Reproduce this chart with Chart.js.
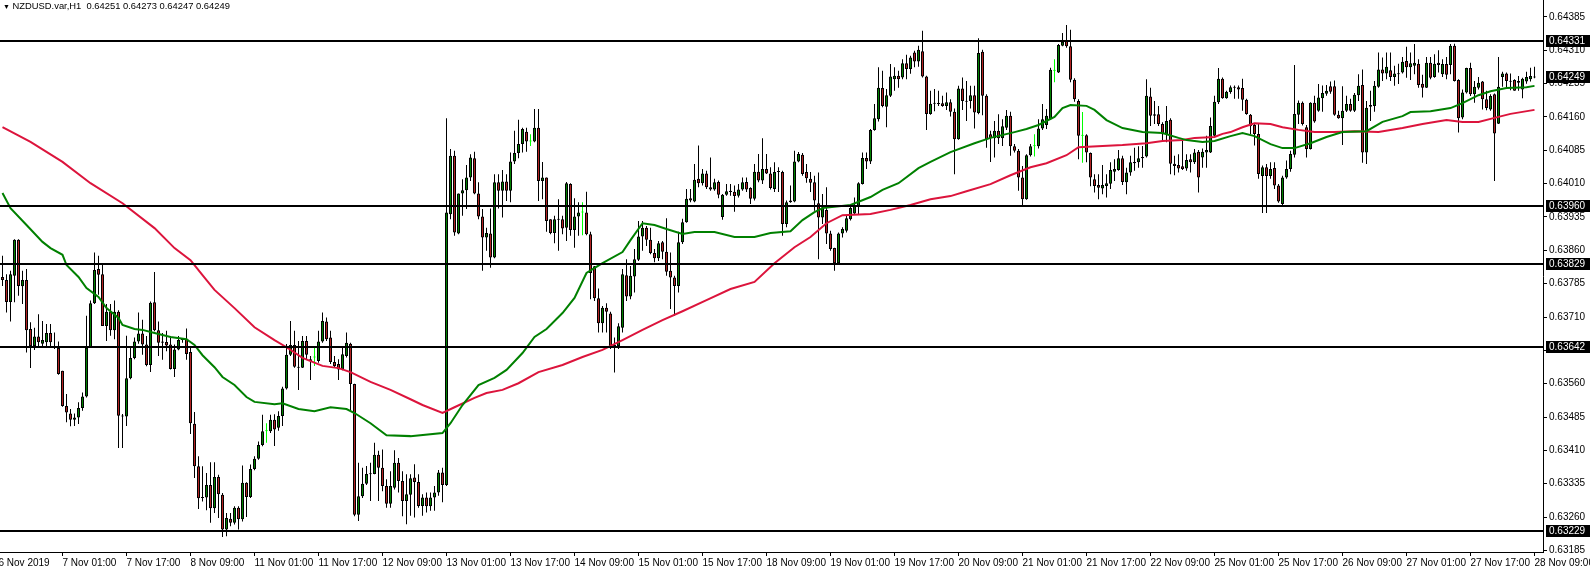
<!DOCTYPE html>
<html>
<head>
<meta charset="utf-8">
<title>NZDUSD.var H1</title>
<script src="https://cdn.jsdelivr.net/npm/chart.js@4"></script>
<style>
  body { margin: 0; background: #fff; }
  #wrap { position: relative; width: 1590px; height: 570px; }
  #hdr { position: absolute; left: 3px; top: 0; font: 9.4px "Liberation Sans", Arial, sans-serif; color: #000; white-space: pre; line-height: 11px; }
  #hdr span { font-size: 7px; }
</style>
</head>
<body>
<div id="wrap">
  <canvas id="chart" width="1590" height="570"></canvas>
  <div id="hdr"></div>
</div>
<script>
// H1 bars, 6 Nov 10:00 .. 28 Nov 09:00 (one value per bar)
const opens = [
0.63800,0.63793,0.63744,0.63803,0.63884,0.63779,0.63793,0.63683,0.63645,0.63666,0.63650,0.63653,0.63674,0.63640,0.63640,0.63589,
0.63510,0.63493,0.63479,0.63484,0.63505,0.63531,0.63641,0.63741,0.63818,0.63806,0.63690,0.63722,0.63680,0.63722,0.63488,0.63486,
0.63572,0.63618,0.63655,0.63673,0.63648,0.63602,0.63743,0.63680,0.63655,0.63654,0.63648,0.63593,0.63637,0.63658,0.63661,0.63631,
0.63470,0.63374,0.63304,0.63304,0.63332,0.63280,0.63350,0.63310,0.63232,0.63256,0.63247,0.63281,0.63255,0.63337,0.63305,0.63368,
0.63391,0.63422,0.63453,0.63453,0.63479,0.63461,0.63487,0.63549,0.63625,0.63647,0.63598,0.63596,0.63656,0.63615,0.63619,0.63611,
0.63655,0.63700,0.63664,0.63609,0.63604,0.63592,0.63622,0.63650,0.63559,0.63265,0.63307,0.63335,0.63357,0.63357,0.63400,0.63371,
0.63330,0.63290,0.63326,0.63382,0.63341,0.63296,0.63310,0.63349,0.63339,0.63285,0.63304,0.63284,0.63304,0.63315,0.63360,0.63332,
0.63941,0.64073,0.63898,0.63988,0.63995,0.64024,0.64067,0.63988,0.63936,0.63889,0.63898,0.63844,0.64013,0.63994,0.64015,0.63994,
0.64060,0.64079,0.64099,0.64127,0.64105,0.64105,0.64136,0.64016,0.64024,0.63930,0.63899,0.63930,0.63930,0.63911,0.64009,0.63906,
0.63936,0.63945,0.63945,0.63896,0.63824,0.63752,0.63696,0.63731,0.63718,0.63645,0.63645,0.63686,0.63804,0.63756,0.63801,0.63839,
0.63891,0.63911,0.63884,0.63854,0.63842,0.63878,0.63857,0.63814,0.63799,0.63780,0.63878,0.63923,0.63977,0.63970,0.64021,0.64011,
0.64033,0.64002,0.63997,0.64014,0.63935,0.63985,0.63994,0.63992,0.63983,0.63997,0.64014,0.64000,0.63976,0.64037,0.64017,0.64043,
0.64033,0.63998,0.64036,0.64036,0.63919,0.63968,0.63970,0.64060,0.64075,0.64036,0.64021,0.64013,0.63966,0.63934,0.63951,0.63898,
0.63865,0.63831,0.63898,0.63904,0.63930,0.63943,0.63960,0.64009,0.64068,0.64060,0.64131,0.64155,0.64225,0.64183,0.64208,0.64245,
0.64253,0.64249,0.64281,0.64268,0.64305,0.64285,0.64308,0.64251,0.64167,0.64190,0.64189,0.64191,0.64185,0.64193,0.64172,0.64110,
0.64224,0.64194,0.64196,0.64209,0.64169,0.64307,0.64208,0.64121,0.64112,0.64129,0.64112,0.64136,0.64163,0.64094,0.64084,0.64024,
0.63975,0.64074,0.64094,0.64094,0.64134,0.64142,0.64155,0.64264,0.64260,0.64320,0.64331,0.64319,0.64244,0.64196,0.64118,0.64119,
0.64079,0.64020,0.64007,0.63999,0.64005,0.64010,0.64037,0.64041,0.64067,0.64013,0.64035,0.64056,0.64058,0.64067,0.64071,0.64206,
0.64166,0.64166,0.64144,0.64121,0.64154,0.64055,0.64052,0.64049,0.64044,0.64065,0.64058,0.64082,0.64069,0.64080,0.64080,0.64118,
0.64193,0.64246,0.64202,0.64216,0.64227,0.64227,0.64225,0.64199,0.64165,0.64142,0.64122,0.64027,0.64047,0.64027,0.64045,0.64006,
0.63964,0.64024,0.64043,0.64075,0.64165,0.64192,0.64137,0.64088,0.64192,0.64174,0.64202,0.64212,0.64229,0.64229,0.64165,0.64157,
0.64174,0.64189,0.64174,0.64209,0.64232,0.64080,0.64183,0.64185,0.64228,0.64267,0.64258,0.64265,0.64250,0.64256,0.64260,0.64286,
0.64272,0.64275,0.64280,0.64235,0.64226,0.64282,0.64250,0.64282,0.64256,0.64279,0.64277,0.64320,0.64243,0.64159,0.64215,0.64270,
0.64211,0.64226,0.64240,0.64200,0.64177,0.64211,0.64145,0.64250,0.64258,0.64239,0.64243,0.64237,0.64222,0.64240,0.64245,0.64251
];
const highs = [
0.63848,0.63806,0.63814,0.63885,0.63885,0.63814,0.63818,0.63698,0.63686,0.63716,0.63701,0.63694,0.63694,0.63675,0.63655,0.63589,
0.63537,0.63503,0.63493,0.63518,0.63540,0.63713,0.63747,0.63855,0.63848,0.63829,0.63739,0.63739,0.63747,0.63725,0.63492,0.63668,
0.63640,0.63664,0.63720,0.63704,0.63667,0.63745,0.63811,0.63700,0.63674,0.63679,0.63667,0.63648,0.63667,0.63663,0.63684,0.63643,
0.63496,0.63397,0.63374,0.63359,0.63383,0.63383,0.63355,0.63314,0.63269,0.63269,0.63284,0.63284,0.63376,0.63338,0.63378,0.63397,
0.63430,0.63490,0.63471,0.63490,0.63491,0.63498,0.63553,0.63649,0.63701,0.63679,0.63656,0.63667,0.63667,0.63622,0.63641,0.63679,
0.63720,0.63709,0.63679,0.63622,0.63615,0.63645,0.63675,0.63652,0.63560,0.63382,0.63371,0.63375,0.63382,0.63427,0.63409,0.63412,
0.63345,0.63363,0.63410,0.63393,0.63363,0.63356,0.63356,0.63379,0.63356,0.63311,0.63315,0.63315,0.63330,0.63366,0.63371,0.64157,
0.64088,0.64084,0.63988,0.64020,0.64052,0.64076,0.64082,0.64013,0.63953,0.63911,0.63954,0.64031,0.64031,0.64041,0.64031,0.64080,
0.64129,0.64154,0.64136,0.64136,0.64121,0.64178,0.64178,0.64059,0.64024,0.63930,0.63938,0.63975,0.63938,0.64014,0.64011,0.63977,
0.63968,0.63968,0.63992,0.63902,0.63825,0.63774,0.63735,0.63741,0.63722,0.63664,0.63696,0.63818,0.63840,0.63825,0.63863,0.63926,
0.63926,0.63915,0.63911,0.63863,0.63881,0.63881,0.63932,0.63855,0.63803,0.63902,0.63931,0.63998,0.63998,0.64054,0.64096,0.64043,
0.64039,0.64069,0.64021,0.64017,0.63987,0.64009,0.64009,0.64006,0.64009,0.64024,0.64024,0.64002,0.64054,0.64077,0.64112,0.64077,
0.64047,0.64058,0.64047,0.64039,0.63972,0.64006,0.64084,0.64081,0.64079,0.64054,0.64036,0.64028,0.64035,0.63987,0.64002,0.63904,
0.63866,0.63900,0.63912,0.63938,0.63964,0.63979,0.64013,0.64080,0.64080,0.64133,0.64189,0.64272,0.64264,0.64223,0.64279,0.64272,
0.64264,0.64290,0.64300,0.64298,0.64309,0.64320,0.64354,0.64253,0.64219,0.64223,0.64219,0.64208,0.64215,0.64200,0.64179,0.64230,
0.64249,0.64241,0.64230,0.64230,0.64337,0.64311,0.64211,0.64129,0.64151,0.64166,0.64155,0.64176,0.64172,0.64099,0.64088,0.64050,
0.64076,0.64099,0.64121,0.64155,0.64189,0.64178,0.64271,0.64290,0.64324,0.64349,0.64367,0.64356,0.64247,0.64200,0.64171,0.64121,
0.64080,0.64031,0.64031,0.64052,0.64031,0.64058,0.64065,0.64086,0.64073,0.64046,0.64073,0.64091,0.64094,0.64095,0.64245,0.64226,
0.64196,0.64185,0.64148,0.64185,0.64157,0.64073,0.64076,0.64110,0.64076,0.64076,0.64088,0.64086,0.64089,0.64118,0.64159,0.64208,
0.64270,0.64249,0.64219,0.64231,0.64231,0.64231,0.64246,0.64201,0.64167,0.64144,0.64144,0.64051,0.64054,0.64058,0.64058,0.64009,
0.64028,0.64062,0.64084,0.64277,0.64197,0.64195,0.64142,0.64193,0.64208,0.64234,0.64231,0.64232,0.64240,0.64242,0.64174,0.64229,
0.64208,0.64201,0.64214,0.64256,0.64267,0.64196,0.64219,0.64241,0.64305,0.64294,0.64305,0.64305,0.64275,0.64280,0.64295,0.64318,
0.64305,0.64324,0.64290,0.64255,0.64295,0.64295,0.64301,0.64310,0.64290,0.64295,0.64324,0.64325,0.64245,0.64222,0.64271,0.64282,
0.64241,0.64250,0.64241,0.64219,0.64211,0.64213,0.64295,0.64262,0.64260,0.64258,0.64245,0.64252,0.64248,0.64262,0.64271,0.64273
];
const lows = [
0.63780,0.63720,0.63700,0.63743,0.63758,0.63739,0.63630,0.63595,0.63636,0.63645,0.63641,0.63645,0.63640,0.63638,0.63580,0.63508,
0.63473,0.63464,0.63465,0.63469,0.63499,0.63529,0.63640,0.63739,0.63760,0.63690,0.63656,0.63668,0.63660,0.63415,0.63415,0.63465,
0.63570,0.63615,0.63650,0.63625,0.63599,0.63586,0.63678,0.63622,0.63614,0.63633,0.63592,0.63575,0.63635,0.63652,0.63614,0.63447,
0.63348,0.63278,0.63295,0.63275,0.63247,0.63269,0.63258,0.63215,0.63217,0.63239,0.63243,0.63232,0.63250,0.63260,0.63303,0.63365,
0.63389,0.63419,0.63427,0.63449,0.63420,0.63454,0.63465,0.63547,0.63622,0.63596,0.63546,0.63595,0.63615,0.63568,0.63600,0.63607,
0.63652,0.63656,0.63604,0.63596,0.63568,0.63590,0.63619,0.63498,0.63262,0.63251,0.63303,0.63332,0.63296,0.63356,0.63296,0.63318,
0.63281,0.63281,0.63322,0.63315,0.63262,0.63244,0.63263,0.63259,0.63281,0.63263,0.63270,0.63274,0.63274,0.63308,0.63293,0.63330,
0.63930,0.63893,0.63896,0.63938,0.63953,0.64016,0.63986,0.63930,0.63814,0.63859,0.63821,0.63842,0.63954,0.63934,0.63971,0.63968,
0.64054,0.64067,0.64080,0.64082,0.64095,0.64103,0.63971,0.63975,0.63902,0.63896,0.63876,0.63859,0.63896,0.63881,0.63893,0.63866,
0.63893,0.63894,0.63894,0.63750,0.63746,0.63675,0.63675,0.63675,0.63638,0.63585,0.63638,0.63675,0.63746,0.63750,0.63765,0.63836,
0.63859,0.63870,0.63851,0.63833,0.63836,0.63840,0.63803,0.63728,0.63713,0.63765,0.63874,0.63922,0.63968,0.63968,0.64002,0.64006,
0.63998,0.63994,0.63994,0.63977,0.63929,0.63983,0.63983,0.63947,0.63979,0.63994,0.63991,0.63964,0.63972,0.64013,0.64009,0.64032,
0.63997,0.63991,0.63991,0.63893,0.63912,0.63967,0.63968,0.64058,0.64028,0.64012,0.63991,0.63949,0.63840,0.63919,0.63874,0.63859,
0.63814,0.63829,0.63889,0.63900,0.63927,0.63942,0.63942,0.64008,0.64043,0.64054,0.64129,0.64150,0.64182,0.64137,0.64205,0.64219,
0.64226,0.64245,0.64245,0.64257,0.64272,0.64273,0.64249,0.64131,0.64165,0.64173,0.64185,0.64183,0.64176,0.64161,0.64031,0.64109,
0.64176,0.64151,0.64179,0.64134,0.64166,0.64164,0.64091,0.64059,0.64069,0.64099,0.64095,0.64131,0.64073,0.64080,0.63994,0.63962,
0.63974,0.64071,0.64071,0.64089,0.64131,0.64133,0.64154,0.64238,0.64259,0.64319,0.64316,0.64238,0.64194,0.64065,0.64057,0.64058,
0.64004,0.63990,0.63975,0.63986,0.63979,0.63998,0.64016,0.64039,0.64007,0.63986,0.64028,0.64039,0.64046,0.64046,0.64069,0.64140,
0.64144,0.64140,0.64106,0.64103,0.64031,0.64029,0.64035,0.64041,0.64039,0.64035,0.64054,0.63990,0.64046,0.64046,0.64079,0.64116,
0.64189,0.64201,0.64201,0.64212,0.64201,0.64201,0.64174,0.64165,0.64122,0.64096,0.64021,0.63944,0.63944,0.64021,0.63998,0.63967,
0.63962,0.64021,0.64037,0.64069,0.64144,0.64141,0.64069,0.64087,0.64147,0.64172,0.64172,0.64208,0.64212,0.64163,0.64156,0.64097,
0.64171,0.64172,0.64171,0.64196,0.64057,0.64054,0.64151,0.64172,0.64226,0.64241,0.64245,0.64241,0.64230,0.64234,0.64258,0.64248,
0.64243,0.64256,0.64226,0.64204,0.64225,0.64245,0.64248,0.64260,0.64250,0.64245,0.64256,0.64240,0.64125,0.64155,0.64213,0.64207,
0.64192,0.64222,0.64177,0.64175,0.64174,0.64016,0.64144,0.64228,0.64226,0.64220,0.64219,0.64219,0.64202,0.64235,0.64240,0.64247
];
const closes = [
0.63793,0.63744,0.63806,0.63884,0.63780,0.63793,0.63680,0.63645,0.63666,0.63653,0.63658,0.63674,0.63653,0.63641,0.63582,0.63510,
0.63495,0.63479,0.63484,0.63505,0.63531,0.63641,0.63741,0.63816,0.63805,0.63690,0.63722,0.63680,0.63722,0.63488,0.63486,0.63572,
0.63618,0.63655,0.63673,0.63648,0.63602,0.63742,0.63680,0.63652,0.63652,0.63646,0.63593,0.63637,0.63658,0.63659,0.63627,0.63471,
0.63374,0.63302,0.63303,0.63332,0.63280,0.63350,0.63311,0.63232,0.63258,0.63247,0.63281,0.63255,0.63337,0.63305,0.63368,0.63391,
0.63422,0.63453,0.63453,0.63479,0.63457,0.63487,0.63549,0.63625,0.63647,0.63598,0.63596,0.63656,0.63625,0.63611,0.63619,0.63655,
0.63701,0.63660,0.63609,0.63600,0.63592,0.63626,0.63652,0.63559,0.63265,0.63307,0.63335,0.63357,0.63356,0.63400,0.63371,0.63330,
0.63290,0.63330,0.63382,0.63341,0.63296,0.63311,0.63347,0.63339,0.63285,0.63304,0.63284,0.63304,0.63315,0.63360,0.63332,0.63945,
0.64073,0.63900,0.63988,0.63995,0.64024,0.64069,0.63988,0.63936,0.63889,0.63899,0.63844,0.64013,0.63994,0.64015,0.63994,0.64060,
0.64079,0.64099,0.64133,0.64105,0.64105,0.64136,0.64016,0.64024,0.63926,0.63899,0.63930,0.63929,0.63909,0.64011,0.63906,0.63936,
0.63945,0.63945,0.63896,0.63809,0.63752,0.63696,0.63731,0.63722,0.63645,0.63646,0.63689,0.63806,0.63756,0.63803,0.63840,0.63891,
0.63911,0.63884,0.63854,0.63842,0.63876,0.63857,0.63812,0.63799,0.63780,0.63878,0.63923,0.63976,0.63972,0.64019,0.64011,0.64033,
0.64002,0.63997,0.64013,0.63985,0.63985,0.63993,0.63991,0.63982,0.63997,0.64013,0.63997,0.63976,0.64037,0.64017,0.64043,0.64033,
0.64000,0.64036,0.64037,0.63919,0.63968,0.63972,0.64060,0.64077,0.64032,0.64022,0.64012,0.63972,0.63934,0.63957,0.63898,0.63863,
0.63831,0.63898,0.63908,0.63932,0.63955,0.63960,0.64011,0.64068,0.64060,0.64131,0.64157,0.64226,0.64185,0.64209,0.64251,0.64253,
0.64245,0.64281,0.64268,0.64294,0.64285,0.64311,0.64251,0.64167,0.64190,0.64191,0.64191,0.64185,0.64193,0.64172,0.64110,0.64224,
0.64196,0.64196,0.64209,0.64170,0.64304,0.64208,0.64110,0.64112,0.64129,0.64112,0.64139,0.64163,0.64094,0.64084,0.64024,0.63975,
0.64074,0.64094,0.64094,0.64134,0.64155,0.64163,0.64266,0.64264,0.64322,0.64329,0.64319,0.64244,0.64200,0.64118,0.64118,0.64080,
0.64024,0.64005,0.64001,0.64007,0.64011,0.64041,0.64043,0.64067,0.64014,0.64035,0.64058,0.64059,0.64067,0.64070,0.64208,0.64163,
0.64163,0.64144,0.64121,0.64151,0.64055,0.64050,0.64044,0.64043,0.64063,0.64058,0.64080,0.64024,0.64082,0.64086,0.64140,0.64194,
0.64246,0.64202,0.64217,0.64227,0.64226,0.64222,0.64199,0.64167,0.64139,0.64122,0.64032,0.64047,0.64027,0.64043,0.64006,0.63970,
0.64024,0.64043,0.64077,0.64167,0.64192,0.64144,0.64088,0.64192,0.64150,0.64204,0.64214,0.64219,0.64217,0.64165,0.64157,0.64174,
0.64189,0.64174,0.64210,0.64230,0.64080,0.64181,0.64187,0.64230,0.64267,0.64258,0.64273,0.64250,0.64258,0.64258,0.64284,0.64272,
0.64281,0.64282,0.64232,0.64226,0.64282,0.64248,0.64280,0.64277,0.64279,0.64255,0.64320,0.64241,0.64157,0.64215,0.64270,0.64211,
0.64228,0.64237,0.64200,0.64180,0.64207,0.64123,0.64228,0.64258,0.64241,0.64241,0.64219,0.64241,0.64246,0.64250,0.64252,0.64249
];

// moving averages: [bar, value]
const fastMA = [
[0,0.63989],[2,0.63955],[6,0.63917],[10,0.63879],[12,0.63865],[15,0.63850],[16,0.63827],[19,0.63800],[21,0.63775],[24,0.63755],
[26,0.63730],[29,0.63708],[30,0.63692],[33,0.63683],[35,0.63681],[38,0.63674],[42,0.63665],[46,0.63660],[48,0.63647],[50,0.63624],
[53,0.63597],[55,0.63575],[58,0.63557],[61,0.63530],[63,0.63519],[68,0.63514],[70,0.63516],[74,0.63503],[78,0.63498],[82,0.63507],
[86,0.63503],[88,0.63494],[92,0.63471],[96,0.63444],[102,0.63442],[110,0.63449],[112,0.63471],[115,0.63512],[119,0.63557],[123,0.63573],
[126,0.63591],[130,0.63629],[133,0.63665],[136,0.63683],[137,0.63692],[140,0.63719],[143,0.63753],[146,0.63809],[150,0.63831],[155,0.63856],
[157,0.63883],[160,0.63921],[163,0.63917],[166,0.63908],[170,0.63897],[173,0.63901],[178,0.63901],[183,0.63890],[188,0.63890],[192,0.63899],
[197,0.63903],[200,0.63928],[203,0.63946],[205,0.63955],[212,0.63962],[217,0.63980],[220,0.63996],[224,0.64011],[229,0.64045],[232,0.64059],
[237,0.64081],[243,0.64101],[247,0.64113],[253,0.64126],[256,0.64133],[259,0.64142],[263,0.64160],[265,0.64180],[267,0.64187],[271,0.64185],
[273,0.64176],[276,0.64153],[280,0.64135],[285,0.64126],[290,0.64124],[294,0.64113],[296,0.64108],[300,0.64104],[303,0.64106],[307,0.64117],
[310,0.64124],[313,0.64117],[317,0.64099],[320,0.64090],[323,0.64090],[327,0.64101],[331,0.64115],[335,0.64126],[341,0.64128],[345,0.64149],
[350,0.64162],[352,0.64171],[357,0.64173],[362,0.64180],[365,0.64191],[369,0.64209],[372,0.64218],[376,0.64225],[381,0.64227],[383,0.64230]
];
const slowMA = [
[0,0.64137],[7,0.64104],[15,0.64059],[22,0.64011],[30,0.63966],[38,0.63910],[43,0.63865],[47,0.63838],[50,0.63804],[53,0.63771],
[58,0.63730],[63,0.63687],[68,0.63658],[71,0.63642],[75,0.63618],[80,0.63600],[84,0.63595],[87,0.63586],[92,0.63564],[97,0.63546],
[102,0.63525],[105,0.63512],[110,0.63494],[113,0.63507],[118,0.63528],[121,0.63539],[125,0.63546],[129,0.63561],[134,0.63586],[140,0.63602],
[145,0.63620],[150,0.63636],[155,0.63658],[160,0.63681],[165,0.63703],[170,0.63723],[176,0.63748],[182,0.63773],[188,0.63789],[193,0.63831],
[198,0.63867],[202,0.63890],[206,0.63921],[210,0.63939],[217,0.63942],[222,0.63951],[227,0.63962],[232,0.63975],[237,0.63982],[241,0.63993],
[247,0.64009],[252,0.64029],[257,0.64047],[261,0.64056],[266,0.64074],[269,0.64092],[275,0.64095],[280,0.64097],[286,0.64101],[290,0.64106],
[295,0.64108],[298,0.64113],[303,0.64115],[305,0.64122],[307,0.64126],[310,0.64137],[313,0.64146],[317,0.64144],[320,0.64137],[324,0.64131],
[328,0.64126],[333,0.64126],[338,0.64128],[344,0.64126],[350,0.64135],[355,0.64144],[361,0.64153],[365,0.64149],[369,0.64149],[373,0.64158],
[377,0.64167],[383,0.64176]
];

// horizontal levels
const levels = [0.64331, 0.63960, 0.63829, 0.63642, 0.63229];

// price scale labels
const priceTicks = [0.64385, 0.64310, 0.64235, 0.64160, 0.64085, 0.64010, 0.63935, 0.63860, 0.63785,
                    0.63710, 0.63635, 0.63560, 0.63485, 0.63410, 0.63335, 0.63260, 0.63185];

// time scale labels, one every 16 bars
const timeLabels = ['6 Nov 2019', '7 Nov 01:00', '7 Nov 17:00', '8 Nov 09:00', '11 Nov 01:00', '11 Nov 17:00',
  '12 Nov 09:00', '13 Nov 01:00', '13 Nov 17:00', '14 Nov 09:00', '15 Nov 01:00', '15 Nov 17:00', '18 Nov 09:00',
  '19 Nov 01:00', '19 Nov 17:00', '20 Nov 09:00', '21 Nov 01:00', '21 Nov 17:00', '22 Nov 09:00', '25 Nov 01:00',
  '25 Nov 17:00', '26 Nov 09:00', '27 Nov 01:00', '27 Nov 17:00', '28 Nov 09:00'];

const n = closes.length;
const last = n - 1;

document.getElementById('hdr').innerHTML = '<span>\u25BC</span> NZDUSD.var,H1  ' +
  [opens[last], highs[last], lows[last], closes[last]].map(v => v.toFixed(5)).join(' ');

Chart.defaults.font.family = '"Liberation Sans", Arial, sans-serif';
Chart.defaults.font.size = 10;
Chart.defaults.color = '#000';

// colours per bar
const bodyColor = opens.map((o, i) => closes[i] > o ? '#008000' : (closes[i] < o ? '#b22222' : '#00ff00'));
const edgeColor = opens.map((o, i) => closes[i] === o ? '#00ff00' : '#000000');

// levels + price tags on the axis
const levelPlugin = {
  id: 'levels',
  afterDraw(chart) {
    const { ctx, chartArea, scales: { y } } = chart;
    ctx.save();
    ctx.strokeStyle = '#000';
    ctx.lineWidth = 2;
    levels.forEach(v => {
      const py = Math.round(y.getPixelForValue(v));
      ctx.beginPath();
      ctx.moveTo(chartArea.left, py);
      ctx.lineTo(chartArea.right, py);
      ctx.stroke();
    });
    ctx.font = '10px "Liberation Sans", Arial, sans-serif';
    ctx.textBaseline = 'middle';
    ctx.textAlign = 'left';
    levels.concat([closes[last]]).forEach(v => {
      const py = Math.round(y.getPixelForValue(v));
      ctx.fillStyle = '#000';
      ctx.fillRect(chartArea.right + 3, py - 6, 44, 12);
      ctx.fillStyle = '#fff';
      ctx.fillText(v.toFixed(5), chartArea.right + 6, py);
    });
    ctx.restore();
  }
};

const ctx = document.getElementById('chart').getContext('2d');
const chart = new Chart(ctx, {
  type: 'bar',
  data: {
    datasets: [
      {
        type: 'line',
        data: fastMA.map(p => ({ x: p[0], y: p[1] })),
        borderColor: '#008000',
        borderWidth: 2,
        pointRadius: 0,
        tension: 0,
        order: 0
      },
      {
        type: 'line',
        data: slowMA.map(p => ({ x: p[0], y: p[1] })),
        borderColor: '#dc143c',
        borderWidth: 2,
        pointRadius: 0,
        tension: 0,
        order: 0
      },
      {
        // candle bodies
        data: opens.map((o, i) => ({ x: i, y: [o, closes[i]] })),
        backgroundColor: bodyColor,
        borderColor: edgeColor,
        borderWidth: 1,
        borderSkipped: false,
        barThickness: 3,
        minBarLength: 1,
        grouped: false,
        inflateAmount: 0,
        order: 1
      },
      {
        // wicks
        data: lows.map((l, i) => ({ x: i, y: [l, highs[i]] })),
        backgroundColor: edgeColor,
        borderWidth: 0,
        barThickness: 1,
        minBarLength: 1,
        grouped: false,
        inflateAmount: 0,
        order: 2
      }
    ]
  },
  options: {
    responsive: false,
    animation: false,
    events: [],
    layout: { padding: 0 },
    plugins: { legend: { display: false }, tooltip: { enabled: false } },
    scales: {
      x: {
        type: 'linear',
        offset: false,
        min: -0.625,
        max: -0.625 + 1543 / 4,
        afterBuildTicks: s => { s.ticks = timeLabels.map((t, k) => ({ value: 16 * k - 1 })); },
        ticks: {
          autoSkip: false,
          maxRotation: 0,
          align: 'start',
          padding: 1,
          callback: (v, k) => timeLabels[k]
        },
        grid: { drawOnChartArea: false, offset: false, tickLength: 4, color: '#000' },
        border: { display: true, color: '#000', width: 1 },
        afterFit: s => { s.height = 18; s.paddingLeft = 0; s.paddingRight = 0; }
      },
      y: {
        type: 'linear',
        position: 'right',
        beginAtZero: false,
        min: 0.631813,
        max: 0.644232,
        afterBuildTicks: s => { s.ticks = priceTicks.map(v => ({ value: v })); },
        ticks: { padding: 2, callback: v => v.toFixed(5) },
        grid: { drawOnChartArea: false, tickLength: 4, color: '#000' },
        border: { display: true, color: '#000', width: 1 },
        afterFit: s => { s.width = 47; s.paddingTop = 0; s.paddingBottom = 0; }
      }
    }
  },
  plugins: [levelPlugin]
});
</script>
</body>
</html>
